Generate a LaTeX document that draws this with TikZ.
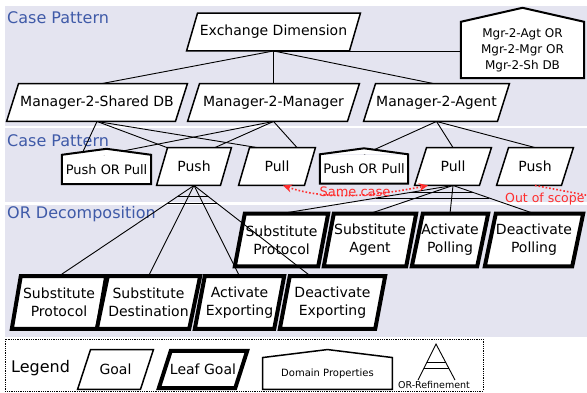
\documentclass[tikz,border=0pt]{standalone}
\usepackage{fontspec}
\setmainfont{DejaVu Sans}
\usetikzlibrary{arrows.meta,calc}
\definecolor{bandbg}{RGB}{228,228,240}
\definecolor{tagblue}{RGB}{63,90,168}
\definecolor{casered}{RGB}{255,45,45}
\pgfdeclarelayer{bands}
\pgfdeclarelayer{boxes}
\pgfsetlayers{bands,boxes,main}

\begin{document}
\begin{tikzpicture}[x=1pt,y=-1pt,
  goal/.style={rectangle,inner sep=1pt,minimum height=37.5,font=\fontsize{14}{18}\selectfont},
  leaf/.style={goal,minimum height=52.5,align=center},
  goalline/.style={draw,fill=white,line width=1.5pt,line join=miter},
  leafline/.style={goalline,line width=4pt},
  dom/.style={rectangle,fill=white,inner sep=1pt,align=center},
  domline/.style={line width=2pt,line join=miter},
  tag/.style={anchor=west,inner sep=0,text=tagblue,font=\fontsize{16}{18}\selectfont},
  link/.style={line width=0.9pt},
  note/.style={text=casered,inner sep=0,font=\fontsize{13}{15}\selectfont},
  scopearr/.style={casered,line width=1.6pt,dotted}
]
\useasboundingbox (0,0) rectangle (587,392);
\begin{pgfonlayer}{bands}
\fill[bandbg] (5,6) rectangle (587,126);
\fill[bandbg] (5,128) rectangle (587,202);
\fill[bandbg] (5,205) rectangle (587,337);
\end{pgfonlayer}

\node[tag] (tagA) at (7,18) {Case Pattern};
\node[tag] (tagB) at (7,141) {Case Pattern};
\node[tag] (tagC) at (7,214) {OR Decomposition};

\node[goal,minimum width=173.5] (exdim) at (273.5,32) {Exchange Dimension};
\node[dom,minimum width=123,minimum height=56,font=\fontsize{12}{16}\selectfont] (mgrdom) at (522.5,50) {Mgr-2-Agt OR\\Mgr-2-Mgr OR\\Mgr-2-Sh DB};
\node[goal,minimum width=180.5] (m2s) at (97,102.5) {Manager-2-Shared DB};
\node[goal,minimum width=171.5] (m2m) at (273.5,102.5) {Manager-2-Manager};
\node[goal,minimum width=145.5] (m2a) at (436.5,102.5) {Manager-2-Agent};

\node[dom,minimum width=89,minimum height=29,font=\fontsize{13}{15}\selectfont] (pushorpullA) at (106.5,169.5) {Push OR Pull};
\node[goal,minimum width=74.5] (pushA) at (194,166.5) {Push};
\node[goal,minimum width=76.5] (pullA) at (277,166.5) {Pull};
\node[dom,minimum width=88,minimum height=29,font=\fontsize{13}{15}\selectfont] (pushorpullB) at (364,169) {Push OR Pull};
\node[goal,minimum width=76.5] (pullB) at (453,166.5) {Pull};
\node[goal,minimum width=76.5] (pushB) at (535,166.5) {Push};

\node[leaf,minimum width=93] (subprotB) at (281.5,240) {Substitute\\Protocol};
\node[leaf,minimum width=92] (subagent) at (370,240) {Substitute\\Agent};
\node[leaf,minimum width=76] (actpoll) at (450,240) {Activate\\Polling};
\node[leaf,minimum width=98] (deactpoll) at (534,240) {Deactivate\\Polling};
\node[leaf,minimum width=94] (subprotA) at (59,302.5) {Substitute\\Protocol};
\node[leaf,minimum width=103] (subdest) at (148.5,302.5) {Substitute\\Destination};
\node[leaf,minimum width=89] (actexp) at (239.5,302.5) {Activate\\Exporting};
\node[leaf,minimum width=105] (deactexp) at (332.5,302.5) {Deactivate\\Exporting};

\node[anchor=west,inner sep=0,font=\fontsize{16}{18}\selectfont] (legtitle) at (11,368) {Legend};
\node[goal,minimum width=75.5,minimum height=39.5] (leggoal) at (115.5,369.5) {Goal};
\node[goal,minimum width=88,minimum height=37] (legleaf) at (203,369.5) {Leaf Goal};
\node[dom,minimum width=129.5,minimum height=31.5,font=\fontsize{10}{12}\selectfont] (legdom) at (327.5,373.5) {Domain Properties};

\begin{pgfonlayer}{boxes}
\foreach \n/\s in {exdim/11,m2s/12,m2m/12,m2a/12,pushA/11,pullA/11,pullB/12,pushB/12,leggoal/13}
  \filldraw[goalline] ([xshift=\s]\n.north west) -- (\n.north east)
    -- ([xshift=-\s]\n.south east) -- (\n.south west) -- cycle;
\foreach \n/\s in {subprotB/10,subagent/10,actpoll/11,deactpoll/11,subprotA/9,subdest/11,actexp/10,deactexp/10,legleaf/12}
  \filldraw[leafline] ([xshift=\s]\n.north west) -- (\n.north east)
    -- ([xshift=-\s]\n.south east) -- (\n.south west) -- cycle;
\end{pgfonlayer}

\draw[link] (exdim.south) -- ([xshift=5]m2s.north);
\draw[link] (exdim.south) -- (m2m.north);
\draw[link] (exdim.south) -- ([xshift=-3]m2a.north);
\draw[link] (exdim.south) -- (exdim.south -| mgrdom.west);

\draw[link] (m2s.south) -- ([xshift=-25]pushorpullA.north);
\draw[link] (m2s.south) -- ([xshift=-27]pushA.north);
\draw[link] (m2s.south) -- ([xshift=-20]pullA.north);
\draw[link] (m2m.south) -- ([xshift=-3]pushorpullA.north);
\draw[link] (m2m.south) -- ([xshift=21]pushA.north);
\draw[link] (m2m.south) -- ([xshift=20]pullA.north);
\draw[link] (m2a.south) -- (pushorpullB.north);
\draw[link] (m2a.south) -- (pullB.north);
\draw[link] (m2a.south) -- (pushB.north);

\coordinate (deA) at ([xshift=-22]deactexp.north);
\draw[link] (pushA.south) -- (subprotA.north);
\draw[link] (pushA.south) -- (subdest.north);
\draw[link] (pushA.south) -- (actexp.north);
\draw[link] (pushA.south) -- (deA);
\draw[link] ($(pushA.south)!0.125!(subprotA.north)$) -- ($(pushA.south)!0.125!(deA)$);
\draw[link] ($(pushA.south)!0.2!(subprotA.north)$) -- ($(pushA.south)!0.2!(deA)$);

\draw[link] (pullB.south) -- (subprotB.north);
\draw[link] (pullB.south) -- (subagent.north);
\draw[link] (pullB.south) -- (actpoll.north);
\draw[link] (pullB.south) -- (deactpoll.north);
\draw[link] ($(pullB.south)!0.25!(subprotB.north)$) -- ($(pullB.south)!0.25!(deactpoll.north)$);
\draw[link] ($(pullB.south)!0.45!(subprotB.north)$) -- ($(pullB.south)!0.45!(deactpoll.north)$);

\foreach \n/\r in {mgrdom/14,pushorpullA/6,pushorpullB/6}{
  \fill[white] (\n.north west) -- ([yshift=\r]\n.north) -- (\n.north east) -- cycle;
  \draw[domline] (\n.north west) -- ([yshift=\r]\n.north) -- (\n.north east)
    -- (\n.south east) -- (\n.south west) -- cycle;
}

\draw[scopearr,{Stealth[length=9pt,width=8pt]}-{Stealth[length=9pt,width=8pt]}]
  ([xshift=6]pullA.south) .. controls +(40,14) and +(-60,12) .. ([xshift=-25]pullB.south);
\node[note] (samecase) at (355,192) {Same case};
\coordinate (offpage) at (596,197);
\draw[scopearr] (pushB.south) -- (offpage);
\node[note,anchor=west,font=\fontsize{12.5}{15}\selectfont] (outscope) at (505,199) {Out of scope};

\draw[densely dotted,line width=0.8pt] (5,339) rectangle (483,391);
\foreach \n/\r in {legdom/8}{
  \fill[white] (\n.north west) -- ([yshift=\r]\n.north) -- (\n.north east) -- cycle;
  \draw[domline,line width=1.5pt] (\n.north west) -- ([yshift=\r]\n.north) -- (\n.north east)
    -- (\n.south east) -- (\n.south west) -- cycle;
}
\coordinate (ortop) at (436,344);
\coordinate (orleft) at (418,380);
\coordinate (orright) at (455,380);
\draw[link] (orleft) -- (ortop) -- (orright);
\draw[link] ($(ortop)!0.5!(orleft)$) -- ($(ortop)!0.5!(orright)$);
\draw[link] ($(ortop)!0.68!(orleft)$) -- ($(ortop)!0.68!(orright)$);
\node[inner sep=0,font=\fontsize{9.5}{11}\selectfont] (legor) at (434,385) {OR-Refinement};
\end{tikzpicture}
\end{document}
